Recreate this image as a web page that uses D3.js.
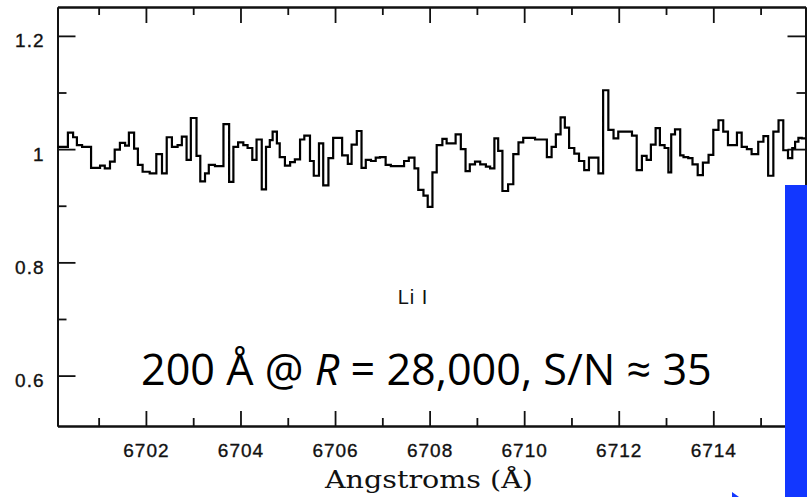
<!DOCTYPE html>
<html>
<head>
<meta charset="utf-8">
<script src="https://cdn.jsdelivr.net/npm/d3@7"></script>
<style>
  html, body { margin: 0; padding: 0; background: #fff; }
  svg { display: block; }
</style>
</head>
<body>
<div id="vis"></div>
<script>
const FRAME_WIDTH = 807;
const FRAME_HEIGHT = 497;

// spectrum, step start wavelengths (Å) and normalised flux
const WAVELENGTHS = [
  6700.13, 6700.35, 6700.46, 6700.54, 6700.65, 6700.84, 6701.03, 6701.13, 6701.24, 6701.34,
  6701.45, 6701.56, 6701.64, 6701.75, 6701.83, 6701.93, 6702.08, 6702.22, 6702.34, 6702.44,
  6702.55, 6702.67, 6702.76, 6702.86, 6702.95, 6703.07, 6703.15, 6703.25, 6703.33, 6703.46,
  6703.64, 6703.76, 6703.85, 6703.95, 6704.06, 6704.15, 6704.25, 6704.34, 6704.45, 6704.54,
  6704.62, 6704.68, 6704.77, 6704.83, 6704.94, 6705.05, 6705.15, 6705.26, 6705.35, 6705.47,
  6705.55, 6705.66, 6705.75, 6705.86, 6705.96, 6706.15, 6706.27, 6706.35, 6706.46, 6706.56,
  6706.65, 6706.76, 6706.86, 6706.95, 6707.07, 6707.18, 6707.46, 6707.56, 6707.68, 6707.76,
  6707.87, 6707.96, 6708.06, 6708.15, 6708.27, 6708.36, 6708.55, 6708.66, 6708.76, 6708.85,
  6708.96, 6709.07, 6709.19, 6709.28, 6709.37, 6709.45, 6709.54, 6709.66, 6709.77, 6709.88,
  6709.98, 6710.23, 6710.48, 6710.58, 6710.67, 6710.77, 6710.86, 6710.95, 6711.06, 6711.16,
  6711.27, 6711.37, 6711.57, 6711.67, 6711.78, 6711.89, 6711.99, 6712.28, 6712.38, 6712.49,
  6712.59, 6712.68, 6712.78, 6712.87, 6712.97, 6713.05, 6713.11, 6713.19, 6713.30, 6713.37,
  6713.47, 6713.56, 6713.67, 6713.78, 6713.90, 6714.00, 6714.11, 6714.21, 6714.31, 6714.50,
  6714.60, 6714.71, 6714.81, 6714.95, 6715.06, 6715.16, 6715.27, 6715.38, 6715.48, 6715.58,
  6715.67, 6715.73, 6715.80, 6715.87
];
const FLUX = [
  1.004, 1.029, 1.021, 1.007, 1.004, 0.967, 0.971, 0.966, 0.978, 0.999,
  1.011, 1.006, 1.029, 1.001, 0.972, 0.960, 0.957, 0.991, 0.957, 1.021,
  1.004, 1.007, 1.022, 0.981, 1.055, 0.988, 0.943, 0.957, 0.972, 0.970,
  1.044, 0.942, 1.004, 1.012, 1.007, 1.002, 0.981, 1.017, 0.929, 1.004,
  1.016, 1.031, 1.010, 0.986, 0.971, 0.977, 0.982, 1.017, 1.024, 0.979,
  0.953, 1.010, 0.936, 0.984, 1.020, 0.989, 0.974, 1.008, 1.032, 0.967,
  0.981, 0.979, 0.985, 0.986, 0.972, 0.970, 0.979, 0.985, 0.966, 0.928,
  0.918, 0.898, 0.959, 1.007, 1.018, 1.010, 1.026, 1.000, 0.961, 0.973,
  0.978, 0.973, 0.969, 0.966, 1.019, 0.997, 0.926, 0.938, 0.991, 1.012,
  1.020, 1.017, 0.986, 1.004, 1.026, 1.056, 1.038, 1.002, 0.992, 0.979,
  0.963, 0.985, 0.957, 1.104, 1.034, 1.019, 1.031, 1.024, 0.963, 0.988,
  0.981, 1.008, 1.037, 1.007, 1.002, 0.959, 1.026, 1.035, 0.989, 0.986,
  0.984, 0.973, 0.954, 0.976, 0.990, 1.034, 1.051, 1.031, 1.007, 1.029,
  1.004, 1.000, 0.991, 1.013, 1.023, 0.953, 1.031, 1.051, 0.998, 0.984,
  1.002, 1.013, 1.020, 1.019
];
const END_WAVELENGTH = 6715.95;

const X_MAJOR = [6702, 6704, 6706, 6708, 6710, 6712, 6714];
const X_MINOR = [6701, 6703, 6705, 6707, 6709, 6711, 6713, 6715];
const Y_MAJOR = [0.6, 0.8, 1, 1.2];
const Y_MINOR = [0.7, 0.9, 1.1];
const Y_LABELS = ["0.6", "0.8", "1", "1.2"];

const X_TITLE = "Angstroms (Å)";
const LINE_LABEL = "Li I";
const NOTE_PARTS = [
  {text: "200 Å @ ", italic: false},
  {text: "R", italic: true},
  {text: " = 28,000, S/N ≈ 35", italic: false}
];

const PLOT = {left: 57.5, right: 805.5, top: 7, bottom: 426};

const X_SCALE = d3.scaleLinear()
                  .domain([6700.13, END_WAVELENGTH])
                  .range([PLOT.left, PLOT.right]);
const Y_SCALE = d3.scaleLinear()
                  .domain([0.511, 1.251])
                  .range([PLOT.bottom, PLOT.top]);

const SVG = d3
  .select("#vis")
  .append("svg")
  .attr("width", FRAME_WIDTH)
  .attr("height", FRAME_HEIGHT);

const TICK_FONT = "'Liberation Sans', Arial, sans-serif";

// axes: bottom and left carry labels, top and right only ticks (all inward)
function addAxis(axis, transform) {
  const g = SVG.append("g").attr("transform", transform).call(axis);
  g.select(".domain").attr("stroke", "#111").attr("stroke-width", 2);
  g.selectAll(".tick line").attr("stroke", "#111").attr("stroke-width", 1.8);
  return g;
}

const xTickFmt = (d) => X_MAJOR.includes(d) ? String(d) : "";

const bottomMajor = addAxis(
  d3.axisBottom(X_SCALE).tickValues(X_MAJOR).tickSizeInner(-15).tickSizeOuter(0).tickFormat(xTickFmt),
  `translate(0,${PLOT.bottom})`);
bottomMajor.selectAll(".tick text")
  .attr("y", 31)
  .attr("dy", 0)
  .attr("font-family", TICK_FONT)
  .attr("font-size", 19)
  .attr("letter-spacing", 1)
  .attr("fill", "#111")
  .attr("stroke", "#111")
  .attr("stroke-width", 0.35);

addAxis(d3.axisBottom(X_SCALE).tickValues(X_MINOR).tickSizeInner(-8).tickSizeOuter(0).tickFormat(""),
  `translate(0,${PLOT.bottom})`);

addAxis(d3.axisTop(X_SCALE).tickValues(X_MAJOR).tickSizeInner(-16).tickSizeOuter(0).tickFormat(""),
  `translate(0,${PLOT.top})`);
addAxis(d3.axisTop(X_SCALE).tickValues(X_MINOR).tickSizeInner(-8).tickSizeOuter(0).tickFormat(""),
  `translate(0,${PLOT.top})`);

const leftMajor = addAxis(
  d3.axisLeft(Y_SCALE).tickValues(Y_MAJOR).tickSizeInner(-18).tickSizeOuter(0)
    .tickFormat((d, i) => Y_LABELS[i]),
  `translate(${PLOT.left},0)`);
leftMajor.selectAll(".tick text")
  .attr("x", -13)
  .attr("dy", 0)
  .attr("y", 11)
  .attr("font-family", TICK_FONT)
  .attr("font-size", 19)
  .attr("letter-spacing", 1)
  .attr("fill", "#111")
  .attr("stroke", "#111")
  .attr("stroke-width", 0.35);

addAxis(d3.axisLeft(Y_SCALE).tickValues(Y_MINOR).tickSizeInner(-9).tickSizeOuter(0).tickFormat(""),
  `translate(${PLOT.left},0)`);

addAxis(d3.axisRight(Y_SCALE).tickValues(Y_MAJOR).tickSizeInner(-18).tickSizeOuter(0).tickFormat(""),
  `translate(${PLOT.right},0)`);
addAxis(d3.axisRight(Y_SCALE).tickValues(Y_MINOR).tickSizeInner(-9).tickSizeOuter(0).tickFormat(""),
  `translate(${PLOT.right},0)`);

// the spectrum as a histogram-style step line
const spectrum = WAVELENGTHS.map((w, i) => ({w: w, f: FLUX[i]}));
spectrum.push({w: END_WAVELENGTH, f: FLUX[FLUX.length - 1]});

const stepLine = d3.line()
  .x((d) => X_SCALE(d.w))
  .y((d) => Y_SCALE(d.f))
  .curve(d3.curveStepAfter);

SVG.append("path")
  .datum(spectrum)
  .attr("d", stepLine)
  .attr("fill", "none")
  .attr("stroke", "#000")
  .attr("stroke-width", 2.2)
  .attr("stroke-linejoin", "miter");

// labels
SVG.append("text")
  .attr("x", 413)
  .attr("y", 304)
  .attr("text-anchor", "middle")
  .attr("font-family", TICK_FONT)
  .attr("font-size", 20)
  .attr("letter-spacing", 1)
  .attr("fill", "#111")
  .text(LINE_LABEL);

SVG.append("text")
  .attr("x", 429)
  .attr("y", 488)
  .attr("text-anchor", "middle")
  .attr("font-family", "'DejaVu Serif', serif")
  .attr("font-size", 24)
  .attr("textLength", 208)
  .attr("lengthAdjust", "spacingAndGlyphs")
  .attr("fill", "#111")
  .text(X_TITLE);

const note = SVG.append("text")
  .attr("x", 141)
  .attr("y", 385)
  .attr("font-family", "'Open Sans', 'Noto Sans', sans-serif")
  .attr("font-size", 40)
  .attr("fill", "#000");
note.selectAll("tspan")
  .data(NOTE_PARTS)
  .enter()
  .append("tspan")
    .attr("font-style", (d) => d.italic ? "italic" : "normal")
    .text((d) => d.text);
// fit the note to the width it spans in the slide
const noteWidth = note.node().getComputedTextLength();
note.attr("font-size", 40 * 571 / noteWidth);

// blue slide element at the right edge
SVG.append("rect")
  .attr("x", 785)
  .attr("y", 185)
  .attr("width", FRAME_WIDTH - 785)
  .attr("height", FRAME_HEIGHT - 185)
  .attr("fill", "#1237ff");
SVG.append("path")
  .attr("d", "M732,492 L739,497 L732,497 Z")
  .attr("fill", "#1237ff");
</script>
</body>
</html>
